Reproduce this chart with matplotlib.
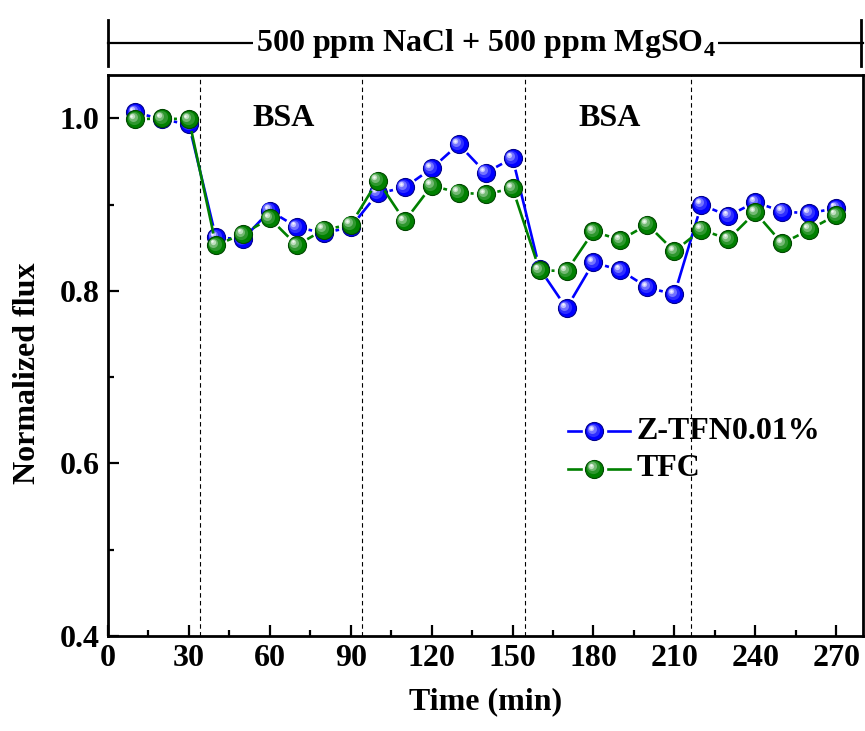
import matplotlib
matplotlib.use("Agg")
import matplotlib.pyplot as plt
import matplotlib.transforms as mtransforms
import numpy as np
from matplotlib.colors import to_rgb

plt.rcParams['font.family'] = ['Liberation Serif', 'DejaVu Serif']
plt.rcParams['font.weight'] = 'bold'
plt.rcParams['mathtext.fontset'] = 'custom'
plt.rcParams['mathtext.rm'] = 'Liberation Serif:bold'
plt.rcParams['mathtext.bf'] = 'Liberation Serif:bold'

time = [10, 20, 30, 40, 50, 60, 70, 80, 90, 100, 110, 120, 130, 140, 150,
        160, 170, 180, 190, 200, 210, 220, 230, 240, 250, 260, 270]
z_tfn = [1.007, 0.999, 0.993, 0.862, 0.860, 0.893, 0.874, 0.867, 0.874,
         0.913, 0.920, 0.942, 0.970, 0.937, 0.954,
         0.826, 0.780, 0.833, 0.824, 0.804, 0.796,
         0.900, 0.887, 0.903, 0.892, 0.890, 0.896]
tfc = [0.999, 1.000, 0.999, 0.853, 0.866, 0.884, 0.853, 0.871, 0.877,
       0.928, 0.881, 0.922, 0.914, 0.912, 0.919,
       0.824, 0.823, 0.869, 0.859, 0.877, 0.846,
       0.871, 0.860, 0.891, 0.855, 0.871, 0.888]
stage_lines = [34, 94, 154.5, 216]
bsa_x = [65, 186]
series = [("Z-TFN0.01%", z_tfn, "#0000ff"), ("TFC", tfc, "#008000")]

fig = plt.figure(figsize=(8.65, 7.31), dpi=100)
ax = fig.add_axes([0.1249, 0.130, 0.873, 0.767])
ax.set_xlim(0, 280)
ax.set_ylim(0.4, 1.05)

MS = 13  # marker size, points


def mix(c, f):
    c = np.array(to_rgb(c))
    return tuple(c + (1 - c) * f)


def sphere(xs, ys, color, z, transform=None):
    if transform is None:
        transform = ax.transData
    dark = tuple(np.array(to_rgb(color)) * 0.55)
    ax.plot(xs, ys, 'o', ms=MS, mfc=color, mec=dark, mew=0.8,
            transform=transform, zorder=z, clip_on=False)
    layers = [(9.5, 0.18, 1.0), (6.5, 0.45, 1.8), (3.8, 0.75, 2.4), (1.8, 0.95, 2.7)]
    for s, f, off in layers:
        tr = transform + mtransforms.ScaledTranslation(-off / 72, off / 72, fig.dpi_scale_trans)
        ax.plot(xs, ys, 'o', ms=s, mfc=mix(color, f), mec='none',
                transform=tr, zorder=z + 0.01, clip_on=False)


def gap_segments(xs, ys, color, z, gap_px=12):
    pts = ax.transData.transform(np.column_stack([xs, ys]))
    inv = ax.transData.inverted()
    for p0, p1 in zip(pts[:-1], pts[1:]):
        d = p1 - p0
        L = np.hypot(*d)
        if L <= 2 * gap_px:
            continue
        u = d / L
        a = inv.transform(p0 + u * gap_px)
        b = inv.transform(p1 - u * gap_px)
        ax.plot([a[0], b[0]], [a[1], b[1]], '-', color=color, lw=1.9,
                solid_capstyle='butt', zorder=z)


for i, (name, vals, col) in enumerate(series):
    gap_segments(time, vals, col, 3 + 2 * i)
    sphere(time, vals, col, 4 + 2 * i)

for xv in stage_lines:
    ax.axvline(xv, color='black', ls=(0, (4, 3)), lw=0.8, zorder=1)

for xb in bsa_x:
    ax.text(xb, 1.0, "BSA", ha='center', va='center', fontsize=23,
            fontweight='bold')

# legend drawn by hand (Origin style: gap around symbol)
leg = [(0.365, "Z-TFN0.01%", "#0000ff"), (0.298, "TFC", "#008000")]
for ly, name, col in leg:
    ax.plot([0.609, 0.626], [ly, ly], '-', color=col, lw=1.9, transform=ax.transAxes, zorder=8)
    ax.plot([0.662, 0.691], [ly, ly], '-', color=col, lw=1.9, transform=ax.transAxes, zorder=8)
    sphere([0.644], [ly], col, 9, transform=ax.transAxes)
    ax.text(0.700, ly, name, transform=ax.transAxes, ha='left', va='center',
            fontsize=23, fontweight='bold')

# bracket above the axes
yb = 1.057
ax.plot([0, 1], [yb, yb], '-', color='black', lw=1.6, transform=ax.transAxes, clip_on=False)
for xc in [0, 0.997]:
    ax.plot([xc, xc], [1.016, 1.098], '-', color='black', lw=2.0,
            transform=ax.transAxes, clip_on=False)
ax.text(0.50, yb, r"500 ppm NaCl + 500 ppm MgSO$_{\mathbf{4}}$", transform=ax.transAxes,
        ha='center', va='center', fontsize=23, fontweight='bold',
        bbox=dict(facecolor='white', edgecolor='none', pad=2))

ax.set_xticks(np.arange(0, 271, 30))
ax.set_xticks(np.arange(15, 280, 30), minor=True)
ax.set_yticks([0.4, 0.6, 0.8, 1.0])
ax.set_yticks([0.5, 0.7, 0.9], minor=True)
ax.set_yticklabels(["0.4", "0.6", "0.8", "1.0"])
ax.tick_params(which='both', direction='in', top=False, right=False,
               labelsize=23, width=1.6, pad=6)
ax.tick_params(which='major', length=8)
ax.tick_params(which='minor', length=4)
for sp in ax.spines.values():
    sp.set_linewidth(2.0)

ax.set_xlabel("Time (min)", fontsize=23, fontweight='bold', labelpad=10)
ax.set_ylabel("Normalized flux", fontsize=23, fontweight='bold', labelpad=12)
ax.yaxis.set_label_coords(-0.088, 0.468)

fig.savefig("out.png", dpi=100)
